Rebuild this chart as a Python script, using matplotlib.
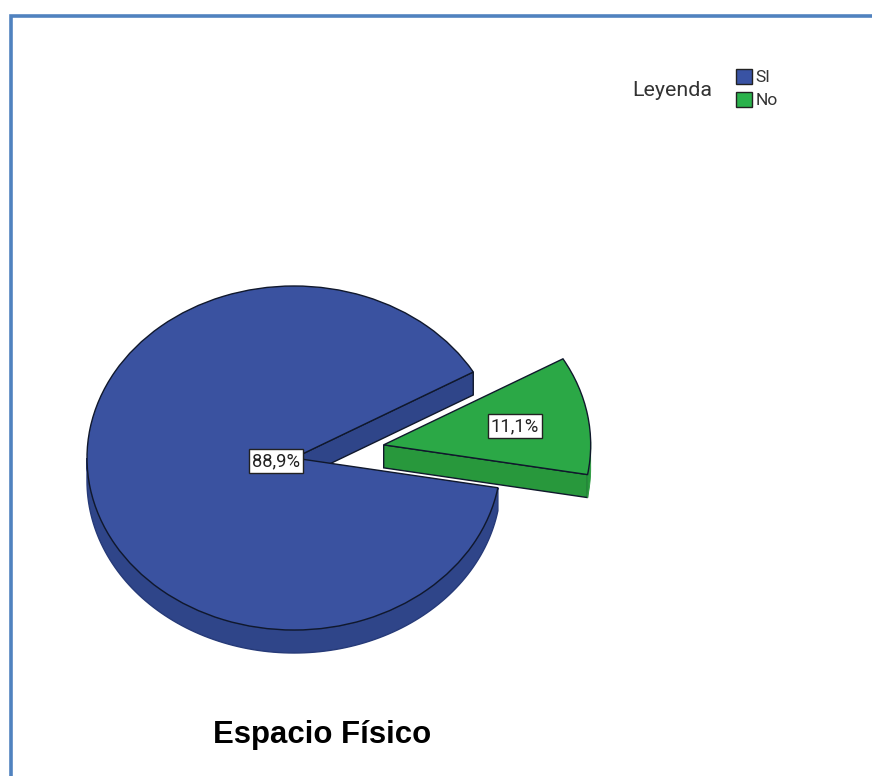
import numpy as np
import matplotlib
matplotlib.use("Agg")
import matplotlib.pyplot as plt
from matplotlib.patches import Patch, Polygon

plt.rcParams['font.family'] = ['Liberation Sans', 'DejaVu Sans']

categories = ['SI', 'No']
values = [88.9, 11.1]
value_labels = ['88,9%', '11,1%']
title = 'Espacio Físico'
legend_title = 'Leyenda'

W, H = 872, 776
CX, CY, RX, RY = 294, 458, 207, 172
DEPTH = 23 / RY
EXPLODE = 0.44
START = 30
top_colors = ['#3a52a0', '#2ba846']
side_colors = ['#2f4589', '#28983c']
legend_colors = ['#3953a4', '#2bb24c']
EDGE = '#10182c'

fig = plt.figure(figsize=(W / 100, H / 100), dpi=100)
ax = fig.add_axes([0, 0, 1, 1])
ax.axis('off')


def arc(a0, a1, cx=0.0, cy=0.0):
    t = np.radians(np.linspace(a0, a1, 120))
    return np.column_stack([cx + np.cos(t), cy + np.sin(t)])


def side(pts):
    low = pts[::-1] + [0, -DEPTH]
    return np.vstack([pts, low])


a_split = START + values[0] * 3.6
a_end = a_split + values[1] * 3.6
mid = np.radians((a_split + a_end) / 2)
ox, oy = EXPLODE * np.cos(mid), EXPLODE * np.sin(mid)
pk = dict(edgecolor=EDGE, linewidth=1.0)

# Big slice: outer rim and the cut face seen through the gap
ax.add_patch(Polygon(side(arc(180, a_split)), facecolor=side_colors[0], zorder=1,
                     edgecolor='#263a78', linewidth=1.0))
p_cut = np.array([[0, 0], [np.cos(np.radians(START)), np.sin(np.radians(START))]])
ax.add_patch(Polygon(side(p_cut), facecolor=side_colors[0], zorder=1, **pk))

# Exploded slice: cut face and rim
e = np.radians(a_split)
g_cut = np.array([[ox, oy], [ox + np.cos(e), oy + np.sin(e)]])
ax.add_patch(Polygon(side(g_cut), facecolor=side_colors[1], zorder=1, **pk))
ax.add_patch(Polygon(side(arc(a_split, a_split + 11, ox, oy)), facecolor=side_colors[1],
                     zorder=1, edgecolor=side_colors[1], linewidth=0.6))

# Top faces
wedges, _ = ax.pie(values, startangle=START, colors=top_colors,
                   explode=[0, EXPLODE], radius=1,
                   wedgeprops=dict(edgecolor=EDGE, linewidth=1.0, zorder=2))
ax.set_aspect('auto')
ax.set_xlim((0 - CX) / RX, (W - CX) / RX)
ax.set_ylim((CY - H) / RY, CY / RY)

# Overlay in pixel coordinates for frame and text
px = fig.add_axes([0, 0, 1, 1], facecolor='none')
px.set_xlim(0, W)
px.set_ylim(H, 0)
px.axis('off')

px.plot([10.5, 10.5, W], [H, 15.5, 15.5], color='#5082bf', lw=2.6,
        solid_joinstyle='miter', solid_capstyle='butt')

box = dict(boxstyle='square,pad=0.18', facecolor='white', edgecolor='#222222', linewidth=1.0)
for (x, y), s in zip([(276, 461), (515, 426)], value_labels):
    px.text(x, y, s, ha='center', va='center', fontsize=13.2, family='Roboto',
            color='#222222', bbox=box, zorder=5)

px.text(322, 735, title, ha='center', va='center', fontsize=22.4, fontweight='bold', color='black')
px.text(672.5, 91, legend_title, ha='center', va='center', fontsize=15.4, family='Roboto',
        color='#333333')

handles = [Patch(facecolor=c, edgecolor='#222222', linewidth=1.0) for c in legend_colors]
px.legend(handles, categories, loc='upper left', bbox_to_anchor=(736 / W, 1 - 69 / H),
          bbox_transform=fig.transFigure, frameon=False, borderpad=0,
          prop=dict(family='Roboto', size=12.5),
          borderaxespad=0, handlelength=0.95, handleheight=0.95, handletextpad=0.18,
          labelspacing=0.36, labelcolor='#333333')

fig.savefig('out.png', dpi=100)
